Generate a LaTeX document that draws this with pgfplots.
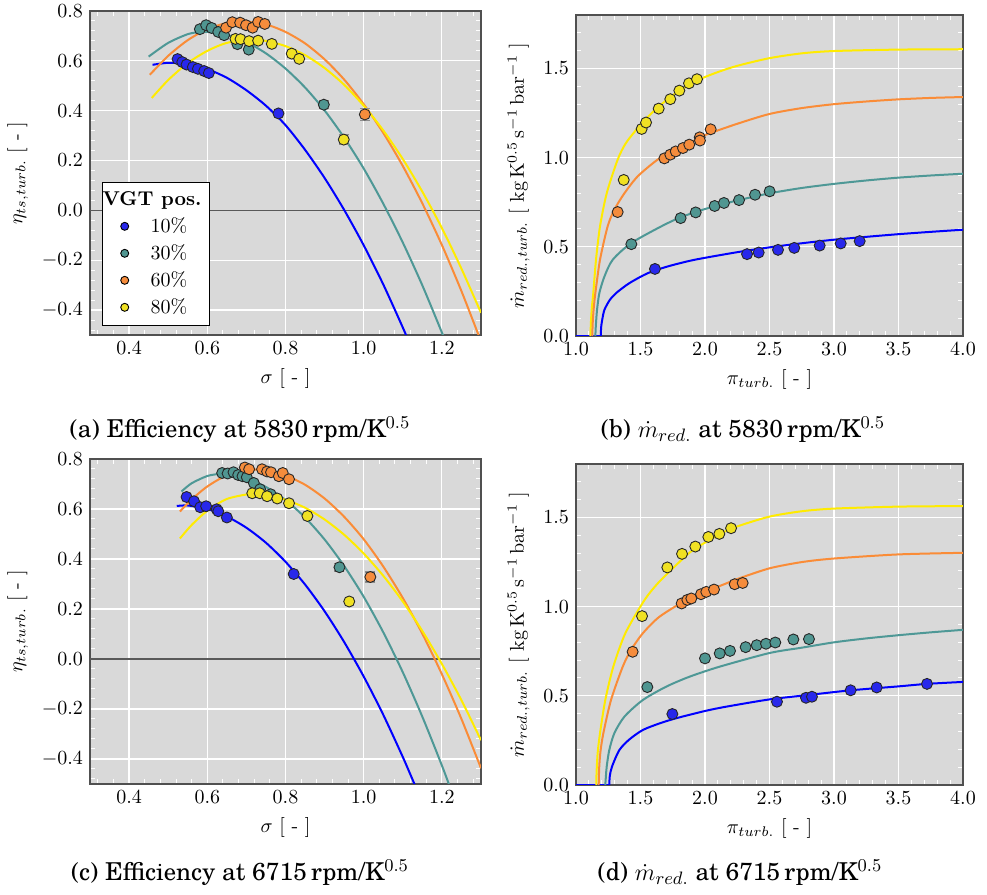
\documentclass[border=0pt]{standalone}
\usepackage{pgfplots}
\pgfplotsset{compat=1.18}
\usepackage{fontspec}
\newfontfamily\capfont{TeX Gyre Schola}
\definecolor{bgc}{RGB}{217,217,217}
\definecolor{c10}{RGB}{0,0,255}
\definecolor{m10}{RGB}{40,40,235}
\definecolor{c30}{RGB}{78,152,150}
\definecolor{m30}{RGB}{80,150,145}
\definecolor{c60}{RGB}{250,140,55}
\definecolor{m60}{RGB}{245,140,60}
\definecolor{c80}{RGB}{255,235,0}
\definecolor{m80}{RGB}{240,225,35}
\definecolor{framec}{RGB}{80,80,80}
\pgfplotsset{
  myax/.style={
    scale only axis,
    anchor=south west,
    axis background/.style={fill=bgc},
    axis line style={framec, line width=0.9pt},
    grid=major,
    major grid style={white, line width=0.6pt},
    tick align=inside,
    major tick style={white, line width=0.6pt},
    minor tick style={white, line width=0.5pt},
    major tick length=3pt, minor tick length=2.5pt,
    tick label style={font=\normalsize},
    xticklabel style={/pgf/number format/.cd, fixed, fixed zerofill, precision=1},
    yticklabel style={/pgf/number format/.cd, fixed, fixed zerofill, precision=1},
    label style={font=\normalsize},
  },
  effax/.style={myax,
    xmin=0.3, xmax=1.3, ymin=-0.5, ymax=0.8,
    xtick={0.4,0.6,0.8,1.0,1.2},
    ytick={-0.4,-0.2,0,0.2,0.4,0.6,0.8},
    minor xtick={0.32,0.36,0.44,0.48,0.52,0.56,0.64,0.68,0.72,0.76,0.84,0.88,0.92,0.96,1.04,1.08,1.12,1.16,1.24,1.28},
    minor ytick={-0.48,-0.44,-0.36,-0.32,-0.28,-0.24,-0.16,-0.12,-0.08,-0.04,0.04,0.08,0.12,0.16,0.24,0.28,0.32,0.36,0.44,0.48,0.52,0.56,0.64,0.68,0.72,0.76},
    xlabel={$\sigma$ [ - ]},
    ylabel={$\eta_{ts,turb.}$ [ - ]},
  },
  mflax/.style={myax,
    xmin=1, xmax=4, ymin=0, ymax=1.8,
    xtick={1,1.5,2,2.5,3,3.5,4},
    ytick={0,0.5,1,1.5},
    minor xtick={1.1,1.2,1.3,1.4,1.6,1.7,1.8,1.9,2.1,2.2,2.3,2.4,2.6,2.7,2.8,2.9,3.1,3.2,3.3,3.4,3.6,3.7,3.8,3.9},
    minor ytick={0.1,0.2,0.3,0.4,0.6,0.7,0.8,0.9,1.1,1.2,1.3,1.4,1.6,1.7},
    xlabel={$\pi_{turb.}$ [ - ]},
    ylabel={$\dot{m}_{red.,turb.}$ [ kg\,K$^{0.5}$\,s$^{-1}$\,bar$^{-1}$ ]},
  },
  curve/.style={color=#1, line width=1pt, smooth, tension=0.45, no markers, forget plot},
  flat/.style={color=#1, line width=1pt, no markers, forget plot},
  pts/.style={only marks, mark=*, mark size=2.75pt, mark options={fill=#1, draw=black!85, line width=0.45pt}, forget plot},
  zeroline/.style={color=black!65, line width=0.8pt, no markers, forget plot},
  ebar/.style={only marks, mark=none, forget plot, error bars/.cd, y dir=both, y explicit,
    error bar style={black!45, line width=0.6pt}, error mark options={rotate=90, mark size=2.5pt, black!45, line width=0.6pt}},
  legmark/.style={only marks, mark=*, mark size=2pt, mark options={fill=#1, draw=black, line width=0.45pt},
    legend image code/.code={\path[draw=none, fill=none] (0pt,-3pt) rectangle (20pt,3pt); \draw[##1] plot coordinates {(9pt,0pt)};}},
}
\newcommand{\capf}{\capfont\fontsize{12.3}{14}\selectfont}
\begin{document}
\begin{tikzpicture}
\useasboundingbox (0,0) rectangle (493.5pt,447.5pt);
% ---------------- (a)
\begin{axis}[effax, at={(45pt,280pt)}, width=195.5pt, height=162pt,
  legend style={at={(0.031,0.028)}, anchor=south west, draw=black, line width=0.6pt, fill=white, font=\normalsize, inner xsep=2pt, inner ysep=2.5pt, row sep=0.5pt},
  legend cell align=left]
\addplot[zeroline] coordinates {(0.3,0) (1.3,0)};
\addplot[curve=c10] coordinates {(0.46,0.584)(0.50,0.592)(0.55,0.587)(0.60,0.567)(0.65,0.532)(0.70,0.482)(0.75,0.420)(0.80,0.342)(0.85,0.243)(0.90,0.130)(0.95,0.002)(1.00,-0.140)(1.05,-0.297)(1.10,-0.470)(1.12,-0.545)};
\addplot[curve=c30] coordinates {(0.45,0.617)(0.50,0.672)(0.55,0.707)(0.585,0.717)(0.60,0.716)(0.65,0.704)(0.70,0.675)(0.75,0.630)(0.80,0.569)(0.85,0.493)(0.90,0.401)(0.95,0.292)(1.00,0.168)(1.05,0.027)(1.10,-0.129)(1.15,-0.301)(1.20,-0.490)(1.21,-0.529)};
\addplot[curve=c60] coordinates {(0.453,0.544)(0.50,0.620)(0.55,0.683)(0.60,0.727)(0.65,0.752)(0.69,0.758)(0.75,0.746)(0.80,0.716)(0.85,0.670)(0.90,0.606)(0.95,0.525)(1.00,0.426)(1.05,0.311)(1.10,0.178)(1.15,0.028)(1.20,-0.139)(1.25,-0.324)(1.30,-0.526)};
\addplot[curve=c80] coordinates {(0.458,0.451)(0.50,0.523)(0.55,0.591)(0.60,0.640)(0.65,0.672)(0.71,0.685)(0.75,0.680)(0.80,0.659)(0.85,0.623)(0.90,0.571)(0.95,0.504)(1.00,0.420)(1.05,0.321)(1.10,0.206)(1.15,0.075)(1.20,-0.071)(1.25,-0.234)(1.30,-0.411)};
\addplot[ebar] coordinates {(0.898,0.424) +- (0,0.015) (1.003,0.385) +- (0,0.025) (0.949,0.284) +- (0,0.02)};
\addplot[pts=m10] coordinates {(0.524,0.607)(0.536,0.595)(0.547,0.585)(0.563,0.575)(0.576,0.568)(0.592,0.559)(0.604,0.551)(0.782,0.389)};
\addplot[pts=m30] coordinates {(0.581,0.727)(0.597,0.743)(0.611,0.732)(0.628,0.716)(0.643,0.703)(0.677,0.667)(0.706,0.645)(0.898,0.424)};
\addplot[pts=m60] coordinates {(0.648,0.733)(0.664,0.755)(0.684,0.753)(0.699,0.743)(0.716,0.733)(0.730,0.756)(0.747,0.748)(1.003,0.385)};
\addplot[pts=m80] coordinates {(0.672,0.688)(0.685,0.687)(0.707,0.679)(0.730,0.681)(0.765,0.668)(0.816,0.629)(0.835,0.608)(0.949,0.284)};
\addlegendimage{empty legend}
\addlegendentry{\hspace{-24pt}\textbf{VGT pos.}}
\addlegendimage{legmark=m10}
\addlegendentry{10\%}
\addlegendimage{legmark=m30}
\addlegendentry{30\%}
\addlegendimage{legmark=m60}
\addlegendentry{60\%}
\addlegendimage{legmark=m80}
\addlegendentry{80\%}
\end{axis}
% ---------------- (b)
\begin{axis}[mflax, at={(288pt,279.5pt)}, width=193.5pt, height=160.5pt]
\addplot[flat=c80] coordinates {(1.0,0)(1.112,0)};
\addplot[flat=c60] coordinates {(1.0,0)(1.126,0)};
\addplot[flat=c30] coordinates {(1.0,0)(1.150,0)};
\addplot[flat=c10] coordinates {(1.0,0)(1.192,0)};
\addplot[curve=c80] coordinates {(1.112,0)(1.116,0.08)(1.123,0.16)(1.134,0.24)(1.155,0.427)(1.186,0.614)(1.238,0.80)(1.323,0.989)(1.388,1.083)(1.491,1.176)(1.615,1.270)(1.775,1.363)(1.956,1.438)(2.10,1.48)(2.25,1.515)(2.50,1.558)(2.75,1.585)(3.00,1.598)(3.50,1.606)(4.00,1.608)};
\addplot[curve=c60] coordinates {(1.126,0)(1.130,0.08)(1.138,0.16)(1.150,0.24)(1.186,0.427)(1.245,0.614)(1.297,0.708)(1.375,0.80)(1.478,0.895)(1.633,0.989)(1.775,1.045)(1.930,1.101)(2.008,1.129)(2.25,1.19)(2.50,1.245)(2.75,1.278)(3.00,1.30)(3.25,1.315)(3.50,1.327)(3.75,1.335)(4.00,1.340)};
\addplot[curve=c30] coordinates {(1.150,0)(1.154,0.06)(1.163,0.146)(1.181,0.24)(1.220,0.333)(1.284,0.427)(1.426,0.52)(1.659,0.614)(1.809,0.665)(2.00,0.712)(2.25,0.76)(2.50,0.80)(2.75,0.83)(3.00,0.853)(3.25,0.872)(3.50,0.888)(3.75,0.900)(4.00,0.910)};
\addplot[curve=c10] coordinates {(1.192,0)(1.195,0.05)(1.203,0.09)(1.22,0.146)(1.26,0.20)(1.31,0.24)(1.413,0.296)(1.556,0.352)(1.711,0.39)(1.917,0.427)(2.25,0.47)(2.50,0.497)(2.75,0.52)(3.00,0.54)(3.25,0.556)(3.50,0.571)(3.75,0.584)(4.00,0.596)};
\addplot[pts=m10] coordinates {(1.612,0.376)(2.326,0.459)(2.416,0.468)(2.566,0.483)(2.692,0.494)(2.889,0.507)(3.052,0.519)(3.199,0.532)};
\addplot[pts=m30] coordinates {(1.429,0.515)(1.811,0.661)(1.928,0.693)(2.075,0.729)(2.147,0.746)(2.264,0.762)(2.388,0.792)(2.501,0.811)};
\addplot[pts=m60] coordinates {(1.323,0.695)(1.685,0.996)(1.731,1.017)(1.773,1.035)(1.829,1.054)(1.878,1.073)(1.959,1.114)(1.961,1.096)(2.044,1.159)};
\addplot[pts=m80] coordinates {(1.370,0.875)(1.509,1.161)(1.543,1.197)(1.641,1.275)(1.731,1.328)(1.801,1.376)(1.876,1.417)(1.938,1.440)};
\end{axis}
% ---------------- (c)
\begin{axis}[effax, at={(45pt,55.5pt)}, width=195.5pt, height=162.5pt]
\addplot[zeroline] coordinates {(0.3,0) (1.3,0)};
\addplot[curve=c10] coordinates {(0.522,0.612)(0.55,0.614)(0.60,0.600)(0.65,0.570)(0.70,0.525)(0.75,0.465)(0.80,0.389)(0.85,0.298)(0.90,0.191)(0.95,0.068)(1.00,-0.070)(1.05,-0.223)(1.10,-0.392)(1.13,-0.501)(1.14,-0.54)};
\addplot[curve=c30] coordinates {(0.534,0.670)(0.56,0.703)(0.60,0.732)(0.63,0.740)(0.65,0.739)(0.70,0.722)(0.75,0.688)(0.80,0.636)(0.85,0.566)(0.90,0.478)(0.95,0.372)(1.00,0.249)(1.05,0.107)(1.10,-0.053)(1.15,-0.231)(1.20,-0.426)(1.23,-0.552)};
\addplot[curve=c60] coordinates {(0.530,0.590)(0.56,0.638)(0.60,0.690)(0.65,0.734)(0.72,0.757)(0.75,0.754)(0.80,0.734)(0.85,0.697)(0.90,0.642)(0.95,0.569)(1.00,0.479)(1.05,0.370)(1.10,0.244)(1.15,0.101)(1.20,-0.061)(1.25,-0.240)(1.30,-0.437)};
\addplot[curve=c80] coordinates {(0.530,0.482)(0.56,0.536)(0.60,0.593)(0.65,0.640)(0.71,0.660)(0.75,0.655)(0.80,0.637)(0.85,0.605)(0.90,0.558)(0.95,0.497)(1.00,0.422)(1.05,0.333)(1.10,0.230)(1.15,0.112)(1.20,-0.020)(1.25,-0.165)(1.30,-0.325)};
\addplot[ebar] coordinates {(0.938,0.367) +- (0,0.015) (1.017,0.328) +- (0,0.02)};
\addplot[pts=m10] coordinates {(0.547,0.648)(0.566,0.631)(0.582,0.607)(0.597,0.611)(0.624,0.599)(0.628,0.591)(0.650,0.566)(0.821,0.340)};
\addplot[pts=m30] coordinates {(0.638,0.744)(0.652,0.742)(0.667,0.747)(0.679,0.736)(0.690,0.731)(0.701,0.727)(0.719,0.704)(0.735,0.679)(0.762,0.659)(0.938,0.367)};
\addplot[pts=m60] coordinates {(0.696,0.766)(0.707,0.759)(0.740,0.759)(0.753,0.750)(0.763,0.747)(0.783,0.731)(0.793,0.744)(0.809,0.719)(1.017,0.328)};
\addplot[pts=m80] coordinates {(0.715,0.663)(0.734,0.663)(0.753,0.651)(0.779,0.642)(0.809,0.623)(0.856,0.572)(0.963,0.230)};
\end{axis}
% ---------------- (d)
\begin{axis}[mflax, at={(288pt,55pt)}, width=193.5pt, height=160.5pt]
\addplot[flat=c80] coordinates {(1.0,0)(1.157,0)};
\addplot[flat=c60] coordinates {(1.0,0)(1.176,0)};
\addplot[flat=c30] coordinates {(1.0,0)(1.227,0)};
\addplot[flat=c10] coordinates {(1.0,0)(1.258,0)};
\addplot[curve=c80] coordinates {(1.157,0)(1.160,0.08)(1.168,0.18)(1.186,0.29)(1.227,0.476)(1.289,0.663)(1.382,0.850)(1.530,1.036)(1.633,1.13)(1.762,1.223)(1.904,1.316)(2.124,1.41)(2.25,1.45)(2.50,1.505)(2.75,1.535)(3.00,1.550)(3.50,1.561)(4.00,1.564)};
\addplot[curve=c60] coordinates {(1.176,0)(1.180,0.10)(1.190,0.19)(1.212,0.29)(1.271,0.476)(1.362,0.663)(1.426,0.756)(1.517,0.85)(1.646,0.943)(1.853,1.036)(2.034,1.092)(2.163,1.13)(2.25,1.155)(2.50,1.215)(2.75,1.25)(3.00,1.27)(3.50,1.293)(4.00,1.302)};
\addplot[curve=c30] coordinates {(1.227,0)(1.232,0.05)(1.238,0.103)(1.258,0.196)(1.297,0.29)(1.375,0.383)(1.517,0.476)(1.698,0.551)(1.879,0.607)(2.111,0.663)(2.50,0.74)(2.75,0.77)(3.00,0.80)(3.25,0.822)(3.50,0.84)(3.75,0.856)(4.00,0.870)};
\addplot[curve=c10] coordinates {(1.258,0)(1.262,0.05)(1.279,0.103)(1.336,0.196)(1.413,0.255)(1.517,0.308)(1.646,0.345)(1.775,0.374)(2.00,0.415)(2.163,0.439)(2.50,0.48)(2.78,0.503)(3.13,0.531)(3.50,0.553)(3.72,0.567)(4.00,0.578)};
\addplot[pts=m10] coordinates {(1.747,0.398)(2.558,0.467)(2.783,0.489)(2.829,0.495)(3.129,0.531)(3.331,0.547)(3.721,0.567)};
\addplot[pts=m30] coordinates {(1.553,0.549)(2.000,0.710)(2.114,0.738)(2.194,0.752)(2.315,0.773)(2.401,0.784)(2.473,0.792)(2.545,0.799)(2.685,0.816)(2.806,0.818)};
\addplot[pts=m60] coordinates {(1.439,0.747)(1.819,1.018)(1.863,1.038)(1.894,1.046)(1.969,1.070)(2.010,1.083)(2.070,1.096)(2.230,1.126)(2.292,1.133)};
\addplot[pts=m80] coordinates {(1.512,0.947)(1.708,1.220)(1.822,1.296)(1.925,1.337)(2.026,1.391)(2.111,1.408)(2.202,1.440)};
\end{axis}
% ---------------- captions
\node[font=\capf] at (120pt,232.5pt) {(a) Efficiency at 5830\,rpm/K$^{0.5}$};
\node[font=\capf] at (371.5pt,232.5pt) {(b) $\dot{m}_{red.}$ at 5830\,rpm/K$^{0.5}$};
\node[font=\capf] at (120pt,11pt) {(c) Efficiency at 6715\,rpm/K$^{0.5}$};
\node[font=\capf] at (370pt,11pt) {(d) $\dot{m}_{red.}$ at 6715\,rpm/K$^{0.5}$};
\end{tikzpicture}
\end{document}
